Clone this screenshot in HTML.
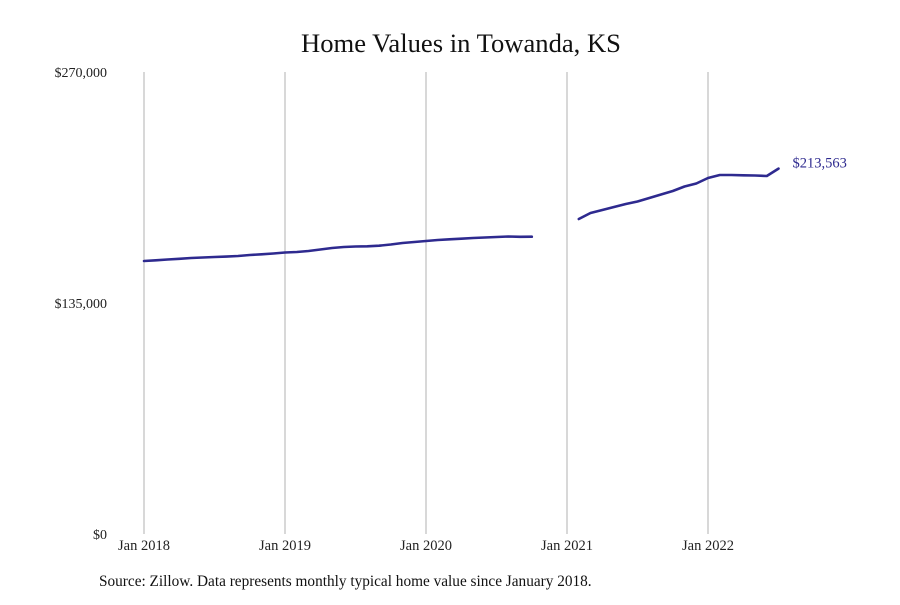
<!DOCTYPE html>
<html><head><meta charset="utf-8"><style>
body{margin:0;background:#fff;font-family:"Liberation Serif",serif;}
svg text{font-family:"Liberation Serif",serif;}
</style></head><body>
<svg id="chart" width="900" height="600" xmlns="http://www.w3.org/2000/svg">
<text x="461" y="52" text-anchor="middle" font-size="26.6" fill="#111">Home Values in Towanda, KS</text>
<text x="99" y="586" font-size="15.3" fill="#111">Source: Zillow. Data represents monthly typical home value since January 2018.</text>
<g id="grid"></g><g id="series"></g>
</svg>
<script>
const values = [159541,159950,160418,160827,161294,161587,161879,162113,162463,163048,163457,163924,
164509,164801,165385,166262,167138,167723,168015,168132,168483,169184,170060,170645,
171229,171814,172223,172573,172982,173275,173567,173859,173684,173742,null,null,null,
184086,187592,189346,191099,192852,194313,196358,198404,200449,203079,204832,
208046,209800,209800,209624,209508,209215,213563];
const yTicks = [0,135000,270000];
const yTickLabels = ["$0","$135,000","$270,000"];
const xTickMonths = [0,12,24,36,48];
const xTickLabels = ["Jan 2018","Jan 2019","Jan 2020","Jan 2021","Jan 2022"];
const lastLabel = "$213,563";
const NS="http://www.w3.org/2000/svg";
const x = m => 144 + m*(141/12);
const y = v => 534 - v/270000*462;
const grid=document.getElementById('grid'), ser=document.getElementById('series');
function mk(tag,attrs,parent,text){const e=document.createElementNS(NS,tag);for(const k in attrs)e.setAttribute(k,attrs[k]);if(text!=null)e.textContent=text;parent.appendChild(e);return e;}
xTickMonths.forEach((m,i)=>{
  const l=mk('line',{x1:x(m),x2:x(m),y1:72,y2:534,stroke:'#b0b0b0','stroke-width':1},grid);
  
  
  const t=mk('text',{x:x(m),y:550,'text-anchor':'middle','font-size':14.5,fill:'#222'},grid,xTickLabels[i]);
  
  
});
yTicks.forEach((v,i)=>{
  const t=mk('text',{x:107,y:y(v)+5,'text-anchor':'end','font-size':14,fill:'#222'},grid,yTickLabels[i]);
  
  
});
let d='',pen=false;
values.forEach((v,i)=>{ if(v==null){pen=false;return;} d+=(pen?'L':'M')+x(i).toFixed(1)+' '+y(v).toFixed(1)+' '; pen=true; });
const p=mk('path',{d:d,fill:'none',stroke:'#2e2a8f','stroke-width':2.6,'stroke-linejoin':'round','stroke-linecap':'round'},ser);


const li=values.length-1;
const lt=mk('text',{x:x(li)+14,y:y(values[li])-1,'font-size':14.5,fill:'#2e2a8f'},ser,lastLabel);


</script>
</body></html>
